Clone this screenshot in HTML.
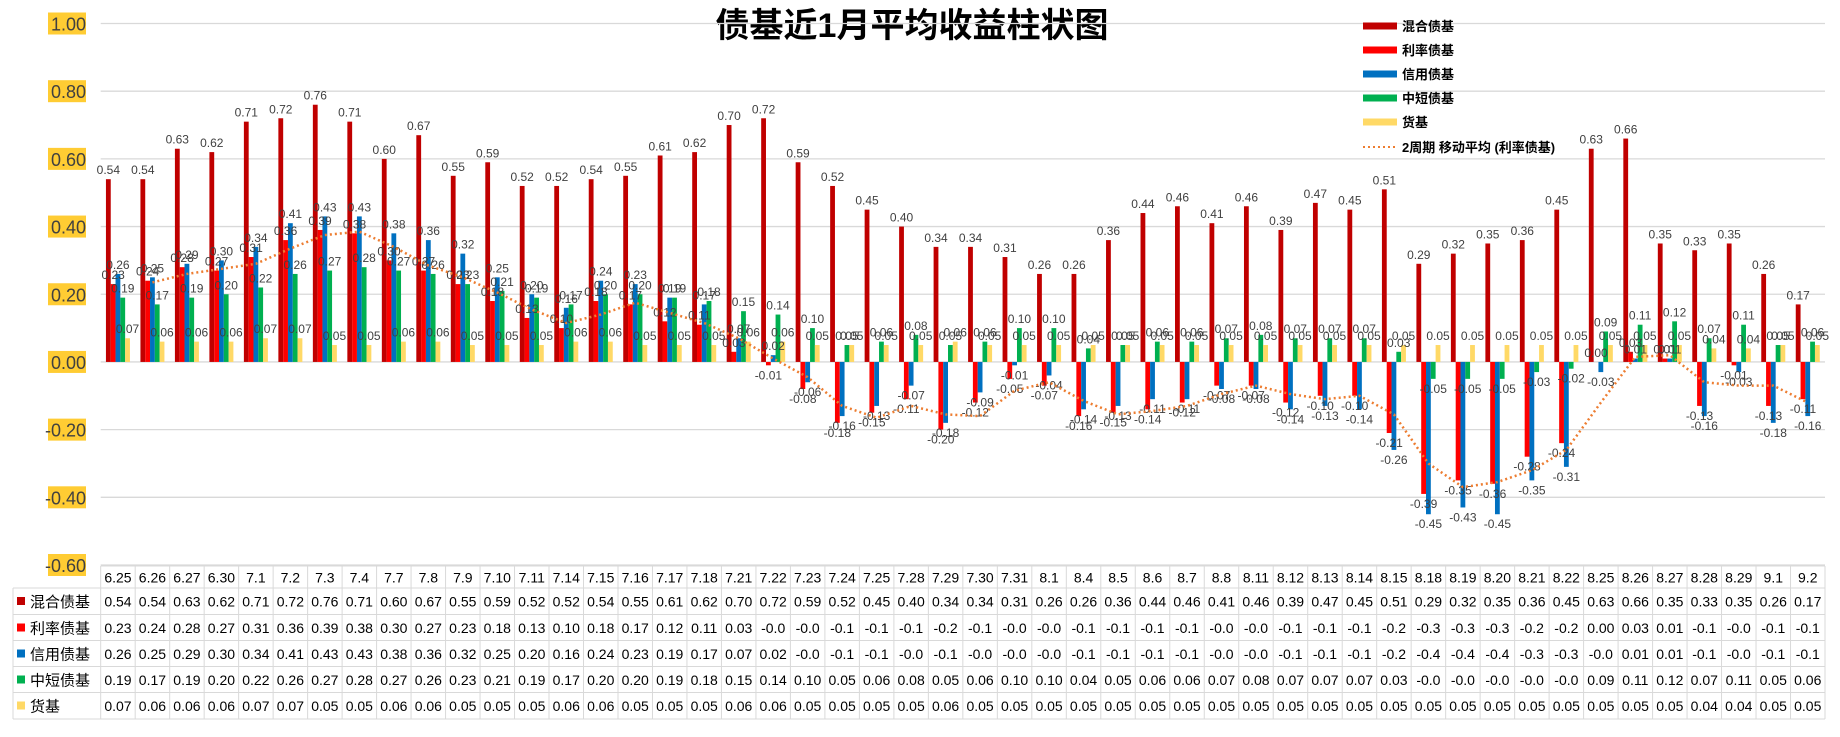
<!DOCTYPE html>
<html><head><meta charset="utf-8">
<style>
html,body{margin:0;padding:0;background:#fff;}
body{width:1840px;height:732px;overflow:hidden;font-family:"Liberation Sans","Noto Sans CJK SC",sans-serif;}
svg text{font-family:"Liberation Sans","Noto Sans CJK SC",sans-serif;}
</style></head>
<body>
<svg id="chart" width="1840" height="732" xmlns="http://www.w3.org/2000/svg">
<text x="912" y="37" text-anchor="middle" font-size="34" font-weight="bold" fill="#000">债基近1月平均收益柱状图</text>
<g id="grid"></g><g id="bars"></g><g id="labels"></g><g id="line"></g><g id="legend"></g><g id="table"></g>
</svg>
<script>
const categories=["6.25","6.26","6.27","6.30","7.1","7.2","7.3","7.4","7.7","7.8","7.9","7.10","7.11","7.14","7.15","7.16","7.17","7.18","7.21","7.22","7.23","7.24","7.25","7.28","7.29","7.30","7.31","8.1","8.4","8.5","8.6","8.7","8.8","8.11","8.12","8.13","8.14","8.15","8.18","8.19","8.20","8.21","8.22","8.25","8.26","8.27","8.28","8.29","9.1","9.2"];
const mixed=[0.54,0.54,0.63,0.62,0.71,0.72,0.76,0.71,0.60,0.67,0.55,0.59,0.52,0.52,0.54,0.55,0.61,0.62,0.70,0.72,0.59,0.52,0.45,0.40,0.34,0.34,0.31,0.26,0.26,0.36,0.44,0.46,0.41,0.46,0.39,0.47,0.45,0.51,0.29,0.32,0.35,0.36,0.45,0.63,0.66,0.35,0.33,0.35,0.26,0.17];
const rate=[0.23,0.24,0.28,0.27,0.31,0.36,0.39,0.38,0.30,0.27,0.23,0.18,0.13,0.10,0.18,0.17,0.12,0.11,0.03,-0.01,-0.08,-0.18,-0.15,-0.11,-0.20,-0.12,-0.05,-0.07,-0.16,-0.15,-0.14,-0.12,-0.07,-0.07,-0.12,-0.10,-0.10,-0.21,-0.39,-0.35,-0.36,-0.28,-0.24,0.00,0.03,0.01,-0.13,-0.01,-0.13,-0.11];
const credit=[0.26,0.25,0.29,0.30,0.34,0.41,0.43,0.43,0.38,0.36,0.32,0.25,0.20,0.16,0.24,0.23,0.19,0.17,0.07,0.02,-0.06,-0.16,-0.13,-0.07,-0.18,-0.09,-0.01,-0.04,-0.14,-0.13,-0.11,-0.11,-0.08,-0.08,-0.14,-0.13,-0.14,-0.26,-0.45,-0.43,-0.45,-0.35,-0.31,-0.03,0.01,0.01,-0.16,-0.03,-0.18,-0.16];
const shortMid=[0.19,0.17,0.19,0.20,0.22,0.26,0.27,0.28,0.27,0.26,0.23,0.21,0.19,0.17,0.20,0.20,0.19,0.18,0.15,0.14,0.10,0.05,0.06,0.08,0.05,0.06,0.10,0.10,0.04,0.05,0.06,0.06,0.07,0.08,0.07,0.07,0.07,0.03,-0.05,-0.05,-0.05,-0.03,-0.02,0.09,0.11,0.12,0.07,0.11,0.05,0.06];
const money=[0.07,0.06,0.06,0.06,0.07,0.07,0.05,0.05,0.06,0.06,0.05,0.05,0.05,0.06,0.06,0.05,0.05,0.05,0.06,0.06,0.05,0.05,0.05,0.05,0.06,0.05,0.05,0.05,0.05,0.05,0.05,0.05,0.05,0.05,0.05,0.05,0.05,0.05,0.05,0.05,0.05,0.05,0.05,0.05,0.05,0.05,0.04,0.04,0.05,0.05];
const seriesNames=["混合债基","利率债基","信用债基","中短债基","货基"];
const yTicks=[1.0,0.8,0.6,0.4,0.2,0.0,-0.2,-0.4,-0.6];

const NS="http://www.w3.org/2000/svg";
const series=[mixed,rate,credit,shortMid,money];
const colors=["#C00000","#FF0000","#0070C0","#00B050","#FFD966"];
const keys=["mixed","rate","credit","short-mid","money"];
const X0=100.7,X1=1825,Y_TOP=23.5,Y_BOT=565;
const colW=(X1-X0)/categories.length;
function y(v){return Y_TOP+(1.0-v)*(Y_BOT-Y_TOP)/1.6;}
function xc(i){return X0+(i+0.5)*colW;}
function mk(tag,attrs,parent){const e=document.createElementNS(NS,tag);for(const k in attrs)e.setAttribute(k,attrs[k]);parent.appendChild(e);return e;}
const G=id=>document.getElementById(id);

yTicks.forEach(t=>{
  const gl=mk('line',{x1:X0,x2:X1,y1:y(t),y2:y(t),stroke:'#D9D9D9','stroke-width':1.3},G('grid'));
  
  
  const bg=mk('rect',{x:48,y:y(t)-11,width:38,height:22,fill:'#FFCC33'},G('grid'));
  
  
  const tx=mk('text',{x:86,y:y(t)+7,'text-anchor':'end','font-size':18,fill:'#404040'},G('grid'));
  tx.textContent=t.toFixed(2);
  
  
});

const bw=4.8,off=(colW-bw*5)/2;
series.forEach((s,si)=>{
  s.forEach((v,i)=>{
    const bx=X0+i*colW+off+si*bw;
    const top=Math.min(y(v),y(0)),h=Math.abs(y(v)-y(0));
    const r=mk('rect',{x:bx,y:top,width:bw,height:Math.max(h,0.01),fill:colors[si]},G('bars'));
    
    
    const lb=mk('text',{x:bx+bw/2,y:v>=0?y(v)-5:y(v)+14,'text-anchor':'middle','font-size':12,fill:'#404040'},G('labels'));
    lb.textContent=v.toFixed(2);
    
    
  });
});

let pts=[];
for(let i=1;i<rate.length;i++){pts.push(xc(i)+','+y((rate[i-1]+rate[i])/2));}
const pl=mk('polyline',{points:pts.join(' '),fill:'none',stroke:'#ED7D31','stroke-width':2.5,'stroke-dasharray':'2 3'},G('line'));



const legY=[26,50,74,98,122,147];
seriesNames.forEach((n,si)=>{
  const r=mk('rect',{x:1363,y:legY[si]-3.5,width:34,height:7,fill:colors[si]},G('legend'));
  
  
  const t=mk('text',{x:1402,y:legY[si]+5,'font-size':13,'font-weight':'bold',fill:'#000'},G('legend'));
  t.textContent=n;
  
  
});
const ll=mk('line',{x1:1363,x2:1397,y1:legY[5],y2:legY[5],stroke:'#ED7D31','stroke-width':2,'stroke-dasharray':'2 3'},G('legend'));


const lt=mk('text',{x:1402,y:legY[5]+5,'font-size':13,'font-weight':'bold',fill:'#000'},G('legend'));
lt.textContent='2周期 移动平均 (利率债基)';



function fmt(v){if(v>=0)return v.toFixed(2);const c=Math.round(-v*100);const t=Math.floor(c/10);return '-'+(t/10).toFixed(1);}
const TY=[566,588,614.5,640.5,666.5,692.5,719];
const T=G('table');
for(let r=0;r<7;r++){
  const x1=r===0?X0:13;
  const ln=mk('line',{x1:x1,x2:X1,y1:TY[r],y2:TY[r],stroke:'#D9D9D9','stroke-width':1},T);
  
  
}
for(let i=0;i<=categories.length;i++){
  const xx=X0+i*colW;
  const ln=mk('line',{x1:xx,x2:xx,y1:TY[0],y2:TY[6],stroke:'#D9D9D9','stroke-width':1},T);
  
  
}
const lv=mk('line',{x1:13,x2:13,y1:TY[1],y2:TY[6],stroke:'#D9D9D9','stroke-width':1},T);


categories.forEach((c,i)=>{
  const t=mk('text',{x:xc(i),y:TY[0]+16.5,'text-anchor':'middle','font-size':14,fill:'#000'},T);
  t.textContent=c;
  
  
});
seriesNames.forEach((n,si)=>{
  const ry=TY[si+1];
  const sq=mk('rect',{x:17,y:ry+9,width:8,height:8,fill:colors[si]},T);
  
  
  const nt=mk('text',{x:30,y:ry+19,'font-size':15,fill:'#000'},T);
  nt.textContent=n;
  
  
  series[si].forEach((v,i)=>{
    const t=mk('text',{x:xc(i),y:ry+18.5,'text-anchor':'middle','font-size':14,fill:'#000'},T);
    t.textContent=fmt(v);
    
    
  });
});
</script>
</body></html>
